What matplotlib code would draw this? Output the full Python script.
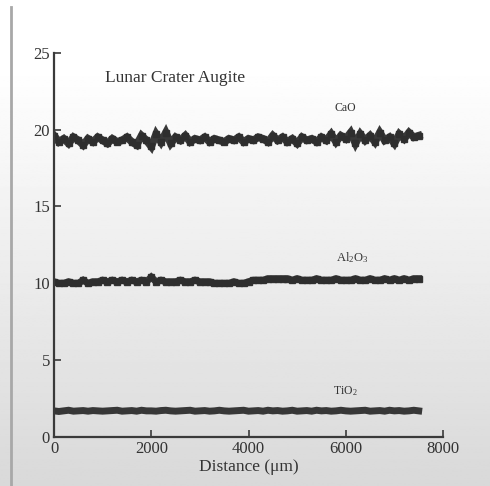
import numpy as np
import matplotlib
matplotlib.use("Agg")
import matplotlib.pyplot as plt

distance = list(range(0, 7600, 100))

cao = [19.6, 19.2, 19.4, 19.1, 19.5, 19.3, 19.0, 19.4, 19.2, 19.5,
       19.3, 19.1, 19.4, 19.2, 19.3, 19.5, 19.2, 19.0, 19.6, 19.3,
       18.9, 19.7, 19.2, 19.8, 19.1, 19.5, 19.3, 19.6, 19.2, 19.4,
       19.3, 19.5, 19.2, 19.4, 19.3, 19.2, 19.4, 19.3, 19.5, 19.2,
       19.4, 19.3, 19.5, 19.4, 19.2, 19.6, 19.3, 19.5, 19.2, 19.4,
       19.1, 19.5, 19.3, 19.4, 19.2, 19.5, 19.3, 19.7, 19.2, 19.6,
       19.4, 19.8, 19.1, 19.7, 19.3, 19.6, 19.2, 19.8, 19.3, 19.5,
       19.1, 19.7, 19.4, 19.8, 19.5, 19.6]

al2o3 = [10.1, 10.0, 10.0, 10.1, 10.0, 10.0, 10.2, 10.0, 10.1, 10.1,
         10.2, 10.1, 10.2, 10.1, 10.2, 10.1, 10.2, 10.1, 10.2, 10.1,
         10.4, 10.1, 10.2, 10.1, 10.1, 10.1, 10.2, 10.1, 10.1, 10.2,
         10.1, 10.1, 10.1, 10.0, 10.0, 10.0, 10.0, 10.1, 10.0, 10.0,
         10.1, 10.2, 10.2, 10.2, 10.3, 10.3, 10.3, 10.3, 10.3, 10.2,
         10.3, 10.2, 10.2, 10.2, 10.3, 10.2, 10.2, 10.2, 10.3, 10.2,
         10.2, 10.2, 10.3, 10.2, 10.2, 10.3, 10.2, 10.2, 10.3, 10.2,
         10.3, 10.2, 10.3, 10.2, 10.3, 10.3]

tio2 = [1.70, 1.66, 1.70, 1.74, 1.68, 1.70, 1.72, 1.68, 1.72, 1.70,
        1.68, 1.70, 1.72, 1.74, 1.68, 1.70, 1.72, 1.68, 1.74, 1.70,
        1.70, 1.68, 1.72, 1.74, 1.70, 1.68, 1.70, 1.72, 1.74, 1.68,
        1.70, 1.72, 1.68, 1.70, 1.74, 1.70, 1.68, 1.70, 1.72, 1.74,
        1.68, 1.70, 1.72, 1.68, 1.74, 1.70, 1.72, 1.68, 1.70, 1.74,
        1.68, 1.70, 1.72, 1.68, 1.74, 1.70, 1.72, 1.68, 1.70, 1.74,
        1.70, 1.68, 1.70, 1.72, 1.74, 1.68, 1.70, 1.72, 1.68, 1.74,
        1.70, 1.72, 1.68, 1.70, 1.74, 1.70]

xticks = [0, 2000, 4000, 6000, 8000]
yticks = [0, 5, 10, 15, 20, 25]

plt.rcParams['font.family'] = ['Liberation Serif', 'DejaVu Serif']
plt.rcParams['mathtext.fontset'] = 'custom'
plt.rcParams['mathtext.rm'] = 'Liberation Serif'
plt.rcParams['mathtext.it'] = 'Liberation Serif:italic'
plt.rcParams['mathtext.bf'] = 'Liberation Serif:bold'

fig = plt.figure(figsize=(4.9, 4.86), dpi=100)

# background gradient (white top -> light gray bottom)
bg = fig.add_axes([0, 0, 1, 1], zorder=-10)
grad = np.linspace(1.0, 0.85, 256)
grad = np.concatenate([np.ones(40), grad]).reshape(-1, 1)
bg.imshow(grad, cmap='gray', vmin=0, vmax=1, aspect='auto',
          extent=[0, 1, 0, 1], origin='upper')
bg.axvline(11 / 490, ymin=0, ymax=1 - 7 / 486, color='#a8a8a8', lw=2)
bg.set_xlim(0, 1)
bg.set_ylim(0, 1)
bg.axis('off')

ax = fig.add_axes([54 / 490, 1 - 437 / 486, (443 - 54) / 490, (437 - 52.7) / 486])
ax.set_facecolor('none')

lc = '#2e2e2e'
ax.plot(distance[:len(cao)], cao, color=lc, lw=5.5, marker='s', ms=5,
        solid_joinstyle='miter', alpha=0.95)
ax.plot(distance[:len(al2o3)], al2o3, color=lc, lw=5.0, marker='s', ms=4,
        solid_joinstyle='miter', alpha=0.95)
ax.plot(distance[:len(tio2)], tio2, color=lc, lw=5.0, solid_joinstyle='miter',
        alpha=0.95)

ax.set_xlim(0, 8000)
ax.set_ylim(0, 25)
ax.set_xticks(xticks)
ax.set_yticks(yticks)
for s in ['top', 'right']:
    ax.spines[s].set_visible(False)
for s in ['left', 'bottom']:
    ax.spines[s].set_color('#3a3a3a')
    ax.spines[s].set_linewidth(1.6)
ax.tick_params(direction='in', length=5, width=1.2, colors='#3a3a3a',
               labelsize=12, labelcolor='#333333', pad=3)

ax.set_xlabel('Distance (μm)', fontsize=12.5, color='#333333', labelpad=1)

ax.text(1050, 23.35, 'Lunar Crater Augite', fontsize=12.5, color='#333333',
        ha='left', va='center')
ax.text(5985, 21.4, 'CaO', fontsize=8.5, color='#333333', ha='center', va='center')
ax.text(6130, 11.7, 'Al$_2$O$_3$', fontsize=9, color='#333333', ha='center', va='center')
ax.text(5985, 3.0, 'TiO$_2$', fontsize=8.5, color='#333333', ha='center', va='center')

fig.savefig('out.png', dpi=100)
